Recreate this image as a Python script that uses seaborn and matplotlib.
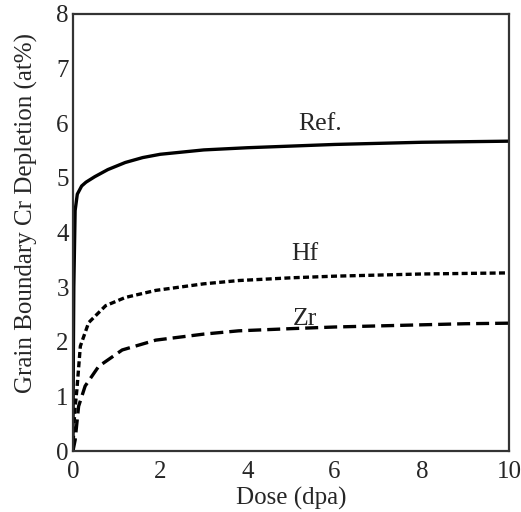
import numpy as np
import pandas as pd
import matplotlib
matplotlib.use('Agg')
import matplotlib.pyplot as plt
import seaborn as sns

# values
ref_dose = [0, 0.01, 0.02, 0.05, 0.1, 0.2, 0.3, 0.5, 0.8, 1.2, 1.6, 2, 3, 4, 5, 6, 7, 8, 9, 10]
ref_dep = [0, 1.8, 3.0, 4.4, 4.7, 4.85, 4.92, 5.02, 5.15, 5.28, 5.37, 5.43, 5.51, 5.55, 5.58, 5.61, 5.63, 5.65, 5.66, 5.67]

hf_dose = [0, 0.02, 0.05, 0.09, 0.17, 0.36, 0.75, 1.2, 1.9, 3.0, 3.8, 5, 6, 7, 8, 9, 10]
hf_dep = [0, 0.45, 0.8, 1.12, 1.92, 2.35, 2.66, 2.81, 2.94, 3.06, 3.12, 3.17, 3.2, 3.22, 3.24, 3.25, 3.26]

zr_dose = [0, 0.05, 0.13, 0.28, 0.59, 1.13, 1.9, 3.0, 3.8, 5, 6, 7, 8, 9, 10]
zr_dep = [0, 0.2, 0.82, 1.19, 1.55, 1.85, 2.03, 2.14, 2.2, 2.24, 2.27, 2.29, 2.31, 2.33, 2.34]

labels = ['Ref.', 'Hf', 'Zr']
label_pos = [(5.67, 5.98), (5.32, 3.61), (5.32, 2.42)]

sns.set_style('white')
plt.rcParams['font.family'] = ['Liberation Serif', 'DejaVu Serif']

fig = plt.figure(figsize=(5.21, 5.12), dpi=100)
ax = fig.add_axes([0.140, 0.119, 0.837, 0.854])

sns.lineplot(x=ref_dose, y=ref_dep, ax=ax, color='black', linewidth=2.4)
l_hf = sns.lineplot(x=hf_dose, y=hf_dep, ax=ax, color='black', linewidth=2.4).lines[-1]
l_hf.set_dashes([1.8, 1.0])
l_zr = sns.lineplot(x=zr_dose, y=zr_dep, ax=ax, color='black', linewidth=2.4).lines[-1]
l_zr.set_dashes([3.9, 1.8])

for lab, (px, py) in zip(labels, label_pos):
    ax.text(px, py, lab, fontsize=18.5, ha='center', va='center')

ax.set_xlim(0, 10)
ax.set_ylim(0, 8)
ax.set_xticks(range(0, 11, 2))
ax.set_yticks(range(0, 9))
ax.tick_params(direction='in', length=5, width=0.8, color='#aaaaaa', labelsize=18)
ax.tick_params(axis='x', pad=7)
ax.tick_params(axis='y', pad=3)
for s in ax.spines.values():
    s.set_color('#333333')
    s.set_linewidth(1.6)

ax.set_xlabel('Dose (dpa)', fontsize=18)
ax.xaxis.set_label_coords(0.5, -0.083)
ax.set_ylabel('Grain Boundary Cr Depletion (at%)', fontsize=18)
ax.yaxis.set_label_coords(-0.080, 0.545)

fig.savefig('out.png', dpi=100, facecolor='white')
